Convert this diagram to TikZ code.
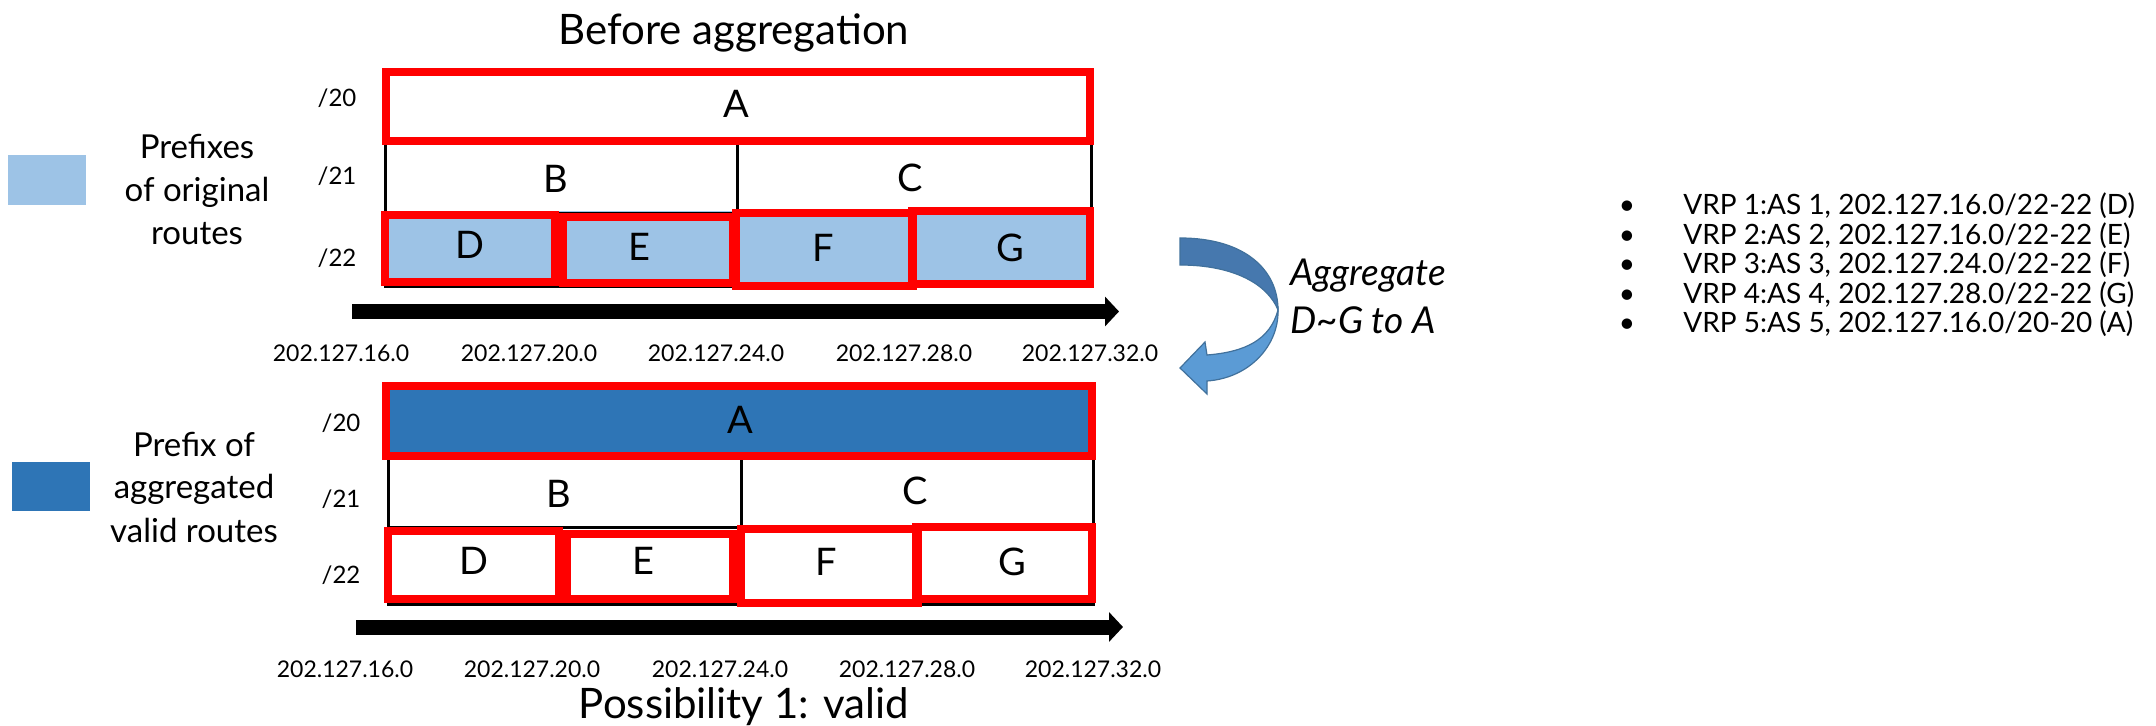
\documentclass[tikz,border=0pt]{standalone}
\usepackage{fontspec}
\setmainfont{Lato}
\usetikzlibrary{arrows.meta}
\definecolor{routeblue}{HTML}{9DC3E6}
\definecolor{aggblue}{HTML}{2E75B6}
\definecolor{vrpred}{HTML}{FF0000}
\definecolor{bendtop}{HTML}{4678AE}
\definecolor{bendlow}{HTML}{5B9BD5}
\definecolor{bendline}{HTML}{41719C}

\begin{document}
\begin{tikzpicture}[x=0.5pt,y=-0.5pt,
  redbox/.style={draw=vrpred,line width=4pt},
  gridline/.style={draw=black,line width=1.5pt},
  cellname/.style={font=\fontsize{19}{19}\selectfont,inner sep=0pt},
  rowlabel/.style={font=\fontsize{12}{12}\selectfont,inner sep=0pt,anchor=base},
  addr/.style={font=\fontsize{11.5}{12}\selectfont,inner sep=0pt,anchor=base},
  axis/.style={line width=7.5pt,-{Triangle[length=7pt,width=14.5pt]}},
  heading/.style={font=\fontsize{21}{24}\selectfont,inner sep=0pt,anchor=base},
  legendtext/.style={font=\fontsize{16.5}{21.5}\selectfont,align=center,inner sep=0pt,anchor=base},
  vrpline/.style={font=\fontsize{14}{16}\selectfont,inner sep=0pt,anchor=base west},
  bullet/.style={font=\fontsize{14}{16}\selectfont,inner sep=0pt,anchor=base},
]
\useasboundingbox (0,0) rectangle (2156,726);

% ---------- titles ----------
\node[heading] (titletop) at (734,45) {Before aggregation};
\node[heading] (titlebot) at (744,718) {Possibility 1: valid};

% ---------- legend (base anchor sits on the last line) ----------
\fill[routeblue] (8,155) rectangle (86,205);
\node[legendtext] (legtop) at (197,245) {Prefixes\\of original\\routes};
\fill[aggblue] (12,462) rectangle (90,511);
\node[legendtext] (legbot) at (194,542) {Prefix of\\aggregated\\valid routes};

% ---------- upper prefix grid ----------
\fill[routeblue] (385,211) rectangle (1091,286);
\draw[gridline] (385,141) rectangle (1091,287);
\draw[gridline] (385,214) -- (1091,214);
\draw[gridline] (737,141) -- (737,214);
\draw[redbox] (386,72) rectangle (1090,141);
\draw[redbox] (385,215) rectangle (555,282);
\draw[redbox] (563,217) rectangle (733,283);
\draw[redbox] (736,213) rectangle (913,286);
\draw[redbox] (912,211) rectangle (1090,284);

\node[cellname] (tA) at (736,104) {A};
\node[cellname] (tB) at (556,179) {B};
\node[cellname] (tC) at (910,178) {C};
\node[cellname] (tD) at (470,245) {D};
\node[cellname] (tE) at (639,247) {E};
\node[cellname] (tF) at (823,248) {F};
\node[cellname] (tG) at (1010,248) {G};

\node[rowlabel] (tl20) at (337,107) {/20};
\node[rowlabel] (tl21) at (337,185) {/21};
\node[rowlabel] (tl22) at (337,267) {/22};

\coordinate (axTs) at (352,311.5);
\coordinate (axTe) at (1119,311.5);
\draw[axis] (axTs) -- (axTe);

\node[addr] (ta16) at (341,362) {202.127.16.0};
\node[addr] (ta20) at (529,362) {202.127.20.0};
\node[addr] (ta24) at (716,362) {202.127.24.0};
\node[addr] (ta28) at (904,362) {202.127.28.0};
\node[addr] (ta32) at (1090,362) {202.127.32.0};

% ---------- lower prefix grid ----------
\fill[aggblue] (386,386) rectangle (1092,456);
\draw[gridline] (388,456) rectangle (1093,604);
\draw[gridline] (388,527) -- (1093,527);
\draw[gridline] (741,456) -- (741,527);
\draw[redbox] (386,386) rectangle (1092,456);
\draw[redbox] (388,531) rectangle (559,599);
\draw[redbox] (567,534) rectangle (733,599);
\draw[redbox] (741,529) rectangle (918,603);
\draw[redbox] (916,527) rectangle (1092,599);

\node[cellname] (bA) at (740,420) {A};
\node[cellname] (bB) at (559,494) {B};
\node[cellname] (bC) at (915,491) {C};
\node[cellname] (bD) at (474,561) {D};
\node[cellname] (bE) at (643,561) {E};
\node[cellname] (bF) at (826,562) {F};
\node[cellname] (bG) at (1012,562) {G};

\node[rowlabel] (bl20) at (341,432) {/20};
\node[rowlabel] (bl21) at (341,508) {/21};
\node[rowlabel] (bl22) at (341,583) {/22};

\coordinate (axBs) at (356,627);
\coordinate (axBe) at (1123,627);
\draw[axis] (axBs) -- (axBe);

\node[addr] (ba16) at (345,677) {202.127.16.0};
\node[addr] (ba20) at (532,677) {202.127.20.0};
\node[addr] (ba24) at (720,677) {202.127.24.0};
\node[addr] (ba28) at (907,677) {202.127.28.0};
\node[addr] (ba32) at (1093,677) {202.127.32.0};

% ---------- bent arrow between the two grids ----------
\filldraw[fill=bendtop,draw=bendline,line width=0.6pt]
  (1180,238) .. controls (1245,238) and (1278,270) .. (1278,310)
  .. controls (1268,285) and (1235,265) .. (1180,265) -- cycle;
\filldraw[fill=bendlow,draw=bendline,line width=0.6pt]
  (1278,310) .. controls (1279,345) and (1250,378) .. (1207,381)
  -- (1207,394) -- (1180,368) -- (1205,342) -- (1207,355)
  .. controls (1245,352) and (1270,340) .. (1278,310) -- cycle;
\node[font=\fontsize{18.5}{24}\selectfont\itshape,align=left,inner sep=0pt,anchor=base west]
  (aggtext) at (1290,334) {Aggregate\\D\textasciitilde G to A};

% ---------- VRP list ----------
\foreach \i/\txt [count=\k] in {
  1/{VRP 1:AS 1, 202.127.16.0/22-22 (D)},
  2/{VRP 2:AS 2, 202.127.16.0/22-22 (E)},
  3/{VRP 3:AS 3, 202.127.24.0/22-22 (F)},
  4/{VRP 4:AS 4, 202.127.28.0/22-22 (G)},
  5/{VRP 5:AS 5, 202.127.16.0/20-20 (A)}}{
  \node[bullet] (dot\k) at (1627,{215+29.4*(\k-1)}) {•};
  \node[vrpline] (vrp\k) at (1683,{215+29.4*(\k-1)}) {\txt};
}
\end{tikzpicture}
\end{document}
